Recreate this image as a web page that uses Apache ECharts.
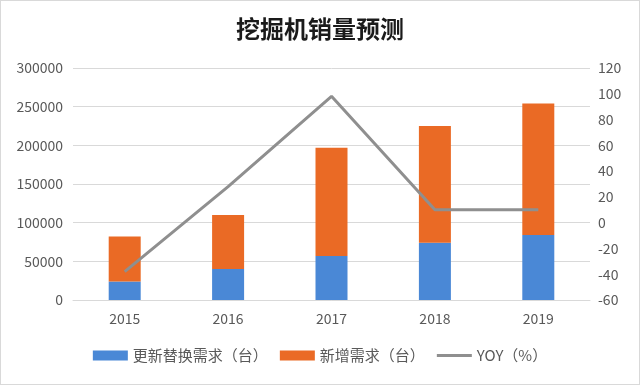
<!DOCTYPE html>
<html><head><meta charset="utf-8">
<script src="https://cdn.jsdelivr.net/npm/echarts@6/dist/echarts.min.js"></script>
<style>html,body{margin:0;padding:0;background:#fff}#c{width:638px;height:383px;border:1px solid #d9d9d9}</style>
</head><body><div id="c"></div>
<script>
const categories = ['2015','2016','2017','2018','2019'];
const replaceDemand = [24000, 40000, 57000, 74000, 84000];
const newDemand = [58000, 70000, 140000, 151000, 170000];
const yoy = [-38, 28, 98, 10, 10];
const leftTicks = {min:0, max:300000, interval:50000};
const rightTicks = {min:-60, max:120, interval:20};

const font = '"Noto Sans CJK SC", "Noto Sans", sans-serif';
const chart = echarts.init(document.getElementById('c'), null, {renderer:'canvas'});
chart.setOption({
  animation:false,
  textStyle:{fontFamily:font},
  title:{text:'挖掘机销量预测', left:'center', top:11,
    textStyle:{fontSize:24, fontWeight:'bold', color:'#1a1a1a', fontFamily:font}},
  grid:{left:72, right:49, top:67, bottom:84},
  legend:{bottom:16, left:'center', itemWidth:35, itemHeight:10, itemGap:12,
    textStyle:{fontSize:15, color:'#595959', fontFamily:font},
    data:[{name:'更新替换需求（台）', icon:'rect'},{name:'新增需求（台）', icon:'rect'},
          {name:'YOY（%）', icon:'path://M0,0L35,0L35,3L0,3Z'}]},
  xAxis:{type:'category', data:categories,
    axisLine:{lineStyle:{color:'#d9d9d9'}}, axisTick:{show:false},
    axisLabel:{fontSize:14, color:'#595959', margin:12}},
  yAxis:[
    {type:'value', min:leftTicks.min, max:leftTicks.max, interval:leftTicks.interval,
     axisLine:{show:false}, axisTick:{show:false},
     splitLine:{lineStyle:{color:'#d9d9d9'}},
     axisLabel:{fontSize:14, color:'#595959', margin:10, formatter:function(v){return String(v);}}},
    {type:'value', min:rightTicks.min, max:rightTicks.max, interval:rightTicks.interval,
     axisLine:{show:false}, axisTick:{show:false}, splitLine:{show:false},
     axisLabel:{fontSize:14, color:'#595959', margin:8}}
  ],
  series:[
    {name:'更新替换需求（台）', type:'bar', stack:'s', data:replaceDemand, barWidth:32,
     itemStyle:{color:'#4a88d6'}},
    {name:'新增需求（台）', type:'bar', stack:'s', data:newDemand, barWidth:32,
     itemStyle:{color:'#ea6a25'}},
    {name:'YOY（%）', type:'line', yAxisIndex:1, data:yoy, symbol:'none',
     lineStyle:{color:'#8f8f8f', width:3}, itemStyle:{color:'#8f8f8f'}}
  ]
});
</script></body></html>
